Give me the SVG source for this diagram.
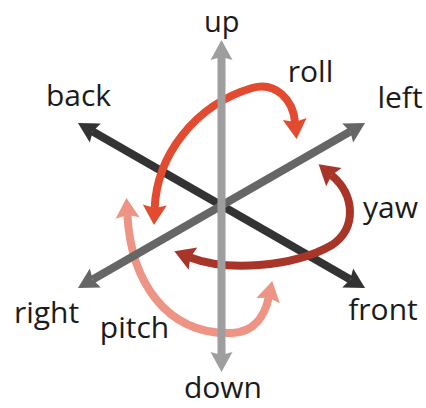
<svg xmlns="http://www.w3.org/2000/svg" width="426" height="408" viewBox="0 0 426 408">
<style>
.lbl{font-family:"Open Sans","Noto Sans","DejaVu Sans",sans-serif;font-size:30px;fill:#1b1b1b;text-anchor:middle}
.ax{fill:none;stroke-width:8}
.rot{fill:none;stroke-width:8}
</style>
<defs>
<marker id="hVert" markerUnits="userSpaceOnUse" markerWidth="30" markerHeight="30" viewBox="-5 -15 30 30" refX="3" refY="0" orient="auto-start-reverse"><path d="M0,-11 L20,0 L0,11 L3,0Z" fill="#9e9e9e"/></marker>
<marker id="hMid" markerUnits="userSpaceOnUse" markerWidth="30" markerHeight="30" viewBox="-5 -15 30 30" refX="3" refY="0" orient="auto-start-reverse"><path d="M0,-11 L20,0 L0,11 L3,0Z" fill="#666666"/></marker>
<marker id="hDark" markerUnits="userSpaceOnUse" markerWidth="30" markerHeight="30" viewBox="-5 -15 30 30" refX="3" refY="0" orient="auto-start-reverse"><path d="M0,-11 L20,0 L0,11 L3,0Z" fill="#333333"/></marker>
<marker id="hRoll" markerUnits="userSpaceOnUse" markerWidth="30" markerHeight="30" viewBox="-5 -15 30 30" refX="3" refY="0" orient="auto-start-reverse"><path d="M0,-12 L20,0 L0,12 L3,0Z" fill="#e34b31"/></marker>
<marker id="hYaw" markerUnits="userSpaceOnUse" markerWidth="30" markerHeight="30" viewBox="-5 -15 30 30" refX="3" refY="0" orient="auto-start-reverse"><path d="M0,-12 L20,0 L0,12 L3,0Z" fill="#a83527"/></marker>
<marker id="hPitch" markerUnits="userSpaceOnUse" markerWidth="30" markerHeight="30" viewBox="-5 -15 30 30" refX="3" refY="0" orient="auto-start-reverse"><path d="M0,-12 L20,0 L0,12 L3,0Z" fill="#ee9485"/></marker>
</defs>
<g id="connectors">
<path id="axis-back-front" class="ax" stroke="#333333" d="M92.7,131.5 L350.3,279.5" marker-start="url(#hDark)" marker-end="url(#hDark)"/>
<path id="arrow-roll" class="rot" stroke="#e34b31" d="M154.7,208 C157,155 195,105 252,88 C276,81 293,100 295,122" marker-start="url(#hRoll)" marker-end="url(#hRoll)"/>
<path id="arrow-yaw" class="rot" stroke="#a83527" d="M190.2,257.5 C225,271 292,268 332,245 C357,228 355,195 331.6,175.2" marker-start="url(#hYaw)" marker-end="url(#hYaw)"/>
<path id="arrow-pitch" class="rot" stroke="#ee9485" d="M127.4,215 C131,280 165,335 232,333 C255,332 265,315 268.7,297.7" marker-start="url(#hPitch)" marker-end="url(#hPitch)"/>
<path id="axis-right-left" class="ax" stroke="#666666" d="M92.7,279.5 L350.3,131.5" marker-start="url(#hMid)" marker-end="url(#hMid)"/>
<path id="axis-up-down" class="ax" stroke="#9e9e9e" d="M221.5,57 L221.5,355" marker-start="url(#hVert)" marker-end="url(#hVert)"/>
</g>
<g id="up"><text class="lbl" x="221.7" y="32" style="font-size:29px">up</text></g>
<g id="down"><text class="lbl" x="223" y="398">down</text></g>
<g id="back"><text class="lbl" x="78.5" y="106">back</text></g>
<g id="left"><text class="lbl" x="400" y="108">left</text></g>
<g id="right"><text class="lbl" x="46.5" y="323">right</text></g>
<g id="front"><text class="lbl" x="383" y="320">front</text></g>
<g id="roll"><text class="lbl" x="310.5" y="82">roll</text></g>
<g id="yaw"><text class="lbl" x="390.5" y="218">yaw</text></g>
<g id="pitch"><text class="lbl" x="134.5" y="338">pitch</text></g>
</svg>
